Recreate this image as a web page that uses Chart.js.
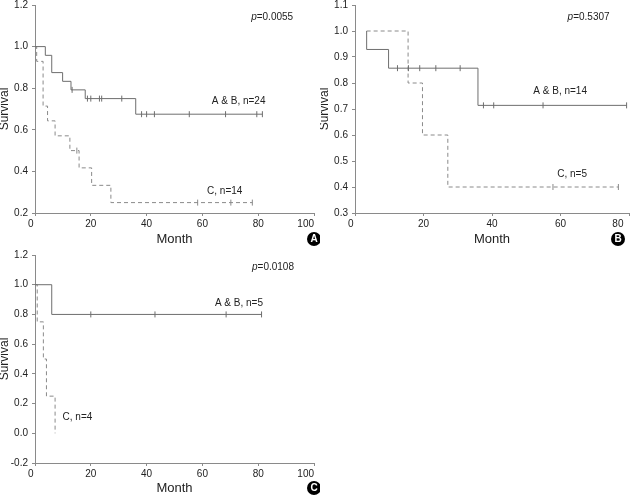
<!DOCTYPE html>
<html><head><meta charset="utf-8">
<script src="https://cdn.jsdelivr.net/npm/chart.js@4.4.1/dist/chart.umd.min.js"></script>
<style>
html,body{margin:0;padding:0;background:#fff;width:634px;height:499px;overflow:hidden;}
.p{position:absolute;}
</style></head><body>
<div class="p" style="left:0;top:0;width:320px;height:250px"><canvas id="cA"></canvas></div>
<div class="p" style="left:320px;top:0;width:314px;height:250px"><canvas id="cB"></canvas></div>
<div class="p" style="left:0;top:250px;width:320px;height:249px"><canvas id="cC"></canvas></div>
<script>
// ---------- Panel A ----------
const aAB_time = [0, 3.7, 6.0, 9.9, 12.9, 18.0, 36.1, 81.5];
const aAB_surv = [1.0, 0.958, 0.875, 0.833, 0.792, 0.75, 0.675, 0.675];
const aAB_cens = [13.3, 18.8, 20.0, 23.1, 23.9, 31.1, 38.2, 40.0, 42.8, 55.3, 68.3, 79.5, 81.5];
const aC_time = [0, 0.6, 2.9, 4.5, 7.2, 12.5, 15.8, 20.3, 27.2, 77.9];
const aC_surv = [1.0, 0.929, 0.714, 0.643, 0.571, 0.5, 0.417, 0.333, 0.25, 0.25];
const aC_cens = [15.0, 58.3, 70.2, 77.9];
const aXTicks = [0, 20, 40, 60, 80, 100];
const aYTicks = [0.2, 0.4, 0.6, 0.8, 1.0, 1.2];
const aP = '=0.0055', aLabAB = 'A & B, n=24', aLabC = 'C, n=14';

// ---------- Panel B ----------
const bAB_time = [3.4, 3.4, 9.8, 35.9, 79.3];
const bAB_surv = [1.0, 0.929, 0.857, 0.714, 0.714];
const bAB_cens = [12.4, 15.6, 18.9, 23.6, 30.7, 37.5, 40.5, 54.9, 79.3];
const bC_time = [3.4, 15.5, 19.7, 27.1, 76.9];
const bC_surv = [1.0, 0.8, 0.6, 0.4, 0.4];
const bC_cens = [57.8, 76.9];
const bXTicks = [0, 20, 40, 60, 80];
const bYTicks = [0.3, 0.4, 0.5, 0.6, 0.7, 0.8, 0.9, 1.0, 1.1];
const bP = '=0.5307', bLabAB = 'A & B, n=14', bLabC = 'C, n=5';

// ---------- Panel C ----------
const cAB_time = [0, 6.0, 81.2];
const cAB_surv = [1.0, 0.8, 0.8];
const cAB_cens = [20.0, 43.0, 68.5, 81.2];
const cC_time = [0, 0.8, 3.0, 4.1, 7.2];
const cC_surv = [1.0, 0.75, 0.5, 0.25, 0.0];
const cC_cens = [];
const cXTicks = [0, 20, 40, 60, 80, 100];
const cYTicks = [-0.2, 0.0, 0.2, 0.4, 0.6, 0.8, 1.0, 1.2];
const cP = '=0.0108', cLabAB = 'A & B, n=5', cLabC = 'C, n=4';

const FONT = '"Liberation Sans", Arial, Helvetica, sans-serif';
const TXT = '#222';
const AXC = '#8a8a8a';
const SOLID = '#6e6e6e';
const DASH = '#8a8a8a';

function xy(t, s) { return t.map((v, i) => ({x: v, y: s[i]})); }
function stepAt(t, s, x) { let v = s[0]; for (let i = 0; i < t.length; i++) if (t[i] <= x) v = s[i]; return v; }
function censXY(t, s, c) { return c.map(x => ({x: x, y: stepAt(t, s, x)})); }

const kmText = {
  id: 'kmText',
  afterDraw(chart, args, o) {
    const ctx = chart.ctx, xs = chart.scales.x, ys = chart.scales.y;
    ctx.save();
    ctx.textBaseline = 'middle';
    ctx.textAlign = 'left';
    ctx.fillStyle = TXT;
    for (const l of o.labels) {
      const px = xs.getPixelForValue(l.x), py = ys.getPixelForValue(l.y);
      let w = 0;
      for (const p of l.parts) { ctx.font = (p[1] ? 'italic ' : '') + '10px ' + FONT; w += ctx.measureText(p[0]).width; }
      let cx = px - w / 2;
      for (const p of l.parts) { ctx.font = (p[1] ? 'italic ' : '') + '10px ' + FONT; ctx.fillText(p[0], cx, py); cx += ctx.measureText(p[0]).width; }
    }
    const bx = chart.chartArea.right + o.badge.dx, by = chart.height - o.badge.dy;
    ctx.beginPath(); ctx.arc(bx, by, 7, 0, Math.PI * 2); ctx.fillStyle = '#000'; ctx.fill();
    ctx.fillStyle = '#fff'; ctx.font = 'bold 10px ' + FONT; ctx.textAlign = 'center';
    ctx.fillText(o.badge.letter, bx, by + 0.5);
    ctx.restore();
  }
};

function lineDs(t, s, color, dash) {
  return {type: 'line', data: xy(t, s), stepped: true, borderColor: color, borderWidth: 1, borderDash: dash,
          pointRadius: 0, fill: false, showLine: true};
}
function censDs(t, s, c, color) {
  return {type: 'scatter', data: censXY(t, s, c), showLine: false, pointStyle: 'line', pointRotation: 90,
          pointRadius: 3, pointBorderColor: color, pointBorderWidth: 1, pointBackgroundColor: color};
}

function panel(id, p) {
  const lastPad = ' '.repeat(p.lastSpaces);
  new Chart(document.getElementById(id), {
    type: 'scatter',
    data: {datasets: [
      lineDs(p.abT, p.abS, SOLID, []),
      censDs(p.abT, p.abS, p.abC, SOLID),
      lineDs(p.cT, p.cS, DASH, [4, 3]),
      censDs(p.cT, p.cS, p.cC, DASH)
    ]},
    options: {
      responsive: true, maintainAspectRatio: false, animation: false, events: [],
      layout: {padding: p.pad},
      plugins: {legend: {display: false}, tooltip: {enabled: false},
        kmText: {labels: p.labels, badge: p.badge}},
      scales: {
        x: {type: 'linear', min: p.xTicks[0], max: p.xTicks[p.xTicks.length - 1],
          afterBuildTicks: s => { s.ticks = p.xTicks.map(v => ({value: v})); },
          afterFit: s => { s.height = p.xH; s.paddingLeft = 0; s.paddingRight = 0; },
          grid: {drawOnChartArea: false, tickLength: 3, color: AXC},
          border: {color: AXC},
          ticks: {font: {family: FONT, size: 10}, color: TXT, padding: 2, maxRotation: 0, autoSkip: false,
            callback: (v, i, arr) => i === 0 ? '0   ' : (i === arr.length - 1 ? String(v) + lastPad : String(v))},
          title: {display: true, text: 'Month', color: TXT, font: {family: FONT, size: 13, lineHeight: 1.2}, padding: {top: 0, bottom: 3}}
        },
        y: {type: 'linear', min: p.yTicks[0], max: p.yTicks[p.yTicks.length - 1],
          afterBuildTicks: s => { s.ticks = p.yTicks.map(v => ({value: v})); },
          afterFit: s => { s.width = 35; s.paddingTop = 0; s.paddingBottom = 0; },
          grid: {drawOnChartArea: false, tickLength: 3, color: AXC},
          border: {color: AXC},
          ticks: {font: {family: FONT, size: 10}, color: TXT, padding: 4, autoSkip: false,
            callback: v => Number(v).toFixed(1)},
          title: {display: true, text: 'Survival', color: TXT, font: {family: FONT, size: 12, lineHeight: 1}, padding: {top: -1, bottom: 0}}
        }
      }
    },
    plugins: [kmText]
  });
}

panel('cA', {abT: aAB_time, abS: aAB_surv, abC: aAB_cens, cT: aC_time, cS: aC_surv, cC: aC_cens,
  xTicks: aXTicks, yTicks: aYTicks, pad: {top: 4, right: 6, left: 0, bottom: 0}, xH: 37, lastSpaces: 6,
  labels: [{parts: [['p', true], [aP, false]], x: 85, y: 1.14},
           {parts: [[aLabAB, false]], x: 73, y: 0.737},
           {parts: [[aLabC, false]], x: 68, y: 0.305}],
  badge: {letter: 'A', dx: 0, dy: 11}});

panel('cB', {abT: bAB_time, abS: bAB_surv, abC: bAB_cens, cT: bC_time, cS: bC_surv, cC: bC_cens,
  xTicks: bXTicks, yTicks: bYTicks, pad: {top: 4, right: 1, left: 0, bottom: 0}, xH: 37, lastSpaces: 8,
  labels: [{parts: [['p', true], [bP, false]], x: 68.2, y: 1.054},
           {parts: [[bLabAB, false]], x: 59.9, y: 0.767},
           {parts: [[bLabC, false]], x: 63.4, y: 0.449}],
  badge: {letter: 'B', dx: -11, dy: 11}});

panel('cC', {abT: cAB_time, abS: cAB_surv, abC: cAB_cens, cT: cC_time, cS: cC_surv, cC: cC_cens,
  xTicks: cXTicks, yTicks: cYTicks, pad: {top: 5, right: 6, left: 0, bottom: 0}, xH: 36, lastSpaces: 6,
  labels: [{parts: [['p', true], [cP, false]], x: 85.3, y: 1.119},
           {parts: [[cLabAB, false]], x: 73.1, y: 0.877},
           {parts: [[cLabC, false]], x: 15.2, y: 0.11}],
  badge: {letter: 'C', dx: 0, dy: 11}});
</script>
</body></html>
